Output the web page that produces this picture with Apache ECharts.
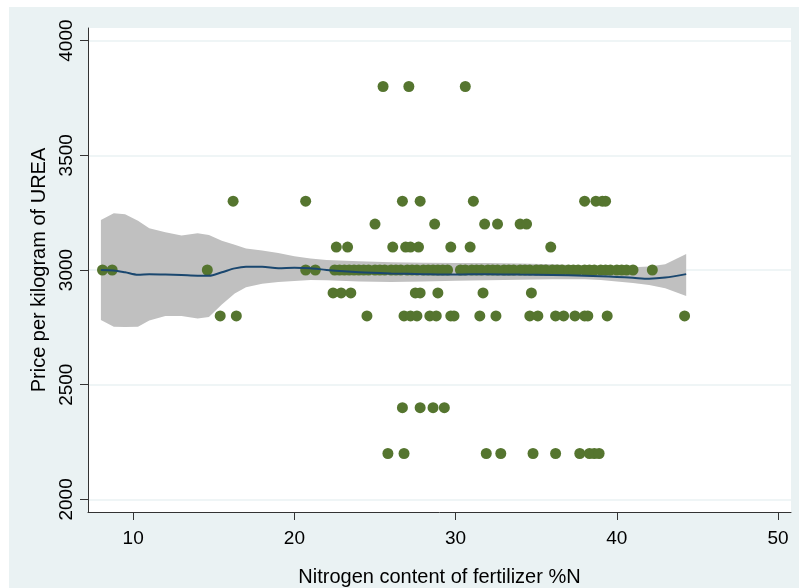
<!DOCTYPE html>
<html>
<head>
<meta charset="utf-8">
<script src="https://cdn.jsdelivr.net/npm/echarts@6/dist/echarts.min.js"></script>
<style>
  html, body { margin: 0; padding: 0; background: #fff; }
  #chart { position: absolute; left: 9px; top: 7px; width: 790px; height: 581px; background: #EAF2F3; }
</style>
</head>
<body>
<div id="chart"></div>
<script>
// nitrogen content (%N) of each observation, grouped by its price per kg
const x2200 = [25.8, 26.8, 31.9, 32.8, 34.8, 36.2, 37.7, 38.3, 38.6, 38.9]
const x2400 = [26.7, 27.8, 28.6, 29.3]
const x2800 = [15.4, 16.4, 24.5, 26.8, 27.2, 27.6, 28.4, 28.8, 29.7, 29.9, 31.5, 32.5, 34.6, 35.1, 36.2, 36.7, 37.4, 38.0, 38.2, 39.4, 44.2]
const x2900 = [22.4, 22.9, 23.5, 27.5, 27.8, 28.9, 31.7, 34.7]
const x3000 = [8.1, 8.7, 14.6, 20.7, 21.3, 22.5, 22.8, 23.1, 23.4, 23.7, 24.0, 24.3, 24.6, 25.0, 25.3, 25.6,
  26.0, 26.3, 26.6, 27.0, 27.3, 27.6, 28.0, 28.3, 28.6, 28.9, 29.2, 29.5, 30.3, 30.6, 31.0, 31.3, 31.6,
  32.0, 32.3, 32.6, 33.0, 33.3, 33.6, 34.0, 34.3, 34.6, 35.0, 35.3, 35.6, 36.0, 36.3, 36.6, 37.0, 37.3,
  37.6, 38.0, 38.3, 38.6, 39.0, 39.3, 39.6, 40.0, 40.3, 40.6, 41.0, 42.2]
const x3100 = [22.6, 23.3, 26.1, 26.9, 27.2, 27.7, 29.7, 30.9, 35.9]
const x3200 = [25.0, 28.7, 31.8, 32.6, 34.0, 34.4]
const x3300 = [16.2, 20.7, 26.7, 27.8, 31.1, 38.0, 38.7, 39.1, 39.3]
const x3800 = [25.5, 27.1, 30.6]

// local polynomial fit with 95% CI
const fitX = [8, 8.8, 9.5, 10.3, 11, 12, 13, 14, 14.7, 15.5, 16.3, 17, 18, 19, 20, 21, 22, 24, 26, 28, 30, 32, 34, 36, 38, 39, 40, 41, 42, 43, 44.3]
const fitY = [3000, 2998, 2990, 2979, 2981, 2980, 2978, 2975, 2975, 2990, 3007, 3014, 3014, 3008, 3010, 3008, 3000, 2990, 2985, 2982, 2980, 2982, 2980, 2978, 2975, 2973, 2970, 2966, 2962, 2967, 2982]
const ciHigh = [3218, 3247, 3243, 3215, 3182, 3165, 3150, 3160, 3153, 3128, 3110, 3094, 3085, 3074, 3060, 3050, 3044, 3038, 3034, 3032, 3030, 3030, 3028, 3025, 3020, 3016, 3012, 3012, 3015, 3025, 3070]
const ciLow = [2782, 2753, 2752, 2753, 2780, 2800, 2800, 2789, 2795, 2850, 2898, 2925, 2940, 2948, 2952, 2956, 2955, 2950, 2948, 2950, 2953, 2955, 2957, 2960, 2960, 2956, 2950, 2943, 2935, 2920, 2887]

const xTicks = [10, 20, 30, 40, 50]
const yTicks = [2000, 2500, 3000, 3500, 4000]

const groups = [[2200, x2200], [2400, x2400], [2800, x2800], [2900, x2900], [3000, x3000],
  [3100, x3100], [3200, x3200], [3300, x3300], [3800, x3800]]
const points = []
groups.forEach(([price, xs]) => xs.forEach(x => points.push([x, price])))

const font = 'Liberation Sans, Arial, sans-serif'
const axisColor = '#333'

const option = {
  animation: false,
  textStyle: { fontFamily: font },
  grid: {
    left: 79, top: 21, right: 8, bottom: 76,
    outerBoundsMode: 'none',
    containLabel: false,
    show: true, backgroundColor: '#fff', borderWidth: 0
  },
  xAxis: {
    type: 'value',
    min: 7.2,
    max: 50.8,
    name: 'Nitrogen content of fertilizer %N',
    nameLocation: 'middle',
    nameGap: 55,
    nameTextStyle: { fontSize: 20, color: '#000', fontFamily: font },
    axisLine: { show: true, lineStyle: { color: axisColor, width: 1 } },
    axisTick: { show: true, length: 8, customValues: xTicks, lineStyle: { color: axisColor } },
    axisLabel: { customValues: xTicks, fontSize: 19, color: '#000', margin: 17, fontFamily: font },
    splitLine: { show: false }
  },
  yAxis: {
    type: 'value',
    min: 1945,
    max: 4055,
    name: 'Price per kilogram of UREA',
    nameLocation: 'middle',
    nameGap: 28,
    nameTextStyle: { fontSize: 20, color: '#000', fontFamily: font },
    axisLine: { show: true, lineStyle: { color: axisColor, width: 1 } },
    axisTick: { show: true, length: 8, customValues: yTicks, lineStyle: { color: axisColor } },
    axisLabel: {
      customValues: yTicks, rotate: 90, fontSize: 19, color: '#000', margin: 12, fontFamily: font,
      formatter: v => String(v)
    },
    splitLine: { show: true, lineStyle: { color: '#EAF2F3', width: 1.5 } }
  },
  series: [
    {
      name: 'ci',
      type: 'custom',
      silent: true,
      data: fitX.map((x, i) => [x, ciLow[i], ciHigh[i]]),
      encode: { x: 0, y: [1, 2] },
      renderItem: (params, api) => {
        if (params.dataIndex !== 0) return null
        const upper = fitX.map((x, i) => api.coord([x, ciHigh[i]]))
        const lower = fitX.map((x, i) => api.coord([x, ciLow[i]])).reverse()
        return {
          type: 'polygon',
          shape: { points: upper.concat(lower) },
          style: { fill: '#C0C0C0' }
        }
      }
    },
    {
      name: 'fit',
      type: 'line',
      symbol: 'none',
      smooth: 0.3,
      lineStyle: { color: '#1A476F', width: 2 },
      data: fitX.map((x, i) => [x, fitY[i]])
    },
    {
      name: 'price',
      type: 'scatter',
      symbolSize: 11,
      itemStyle: { color: '#55752F', opacity: 1 },
      data: points
    }
  ]
}

const myChart = echarts.init(document.getElementById('chart'))
myChart.setOption(option, true)
</script>
</body>
</html>
